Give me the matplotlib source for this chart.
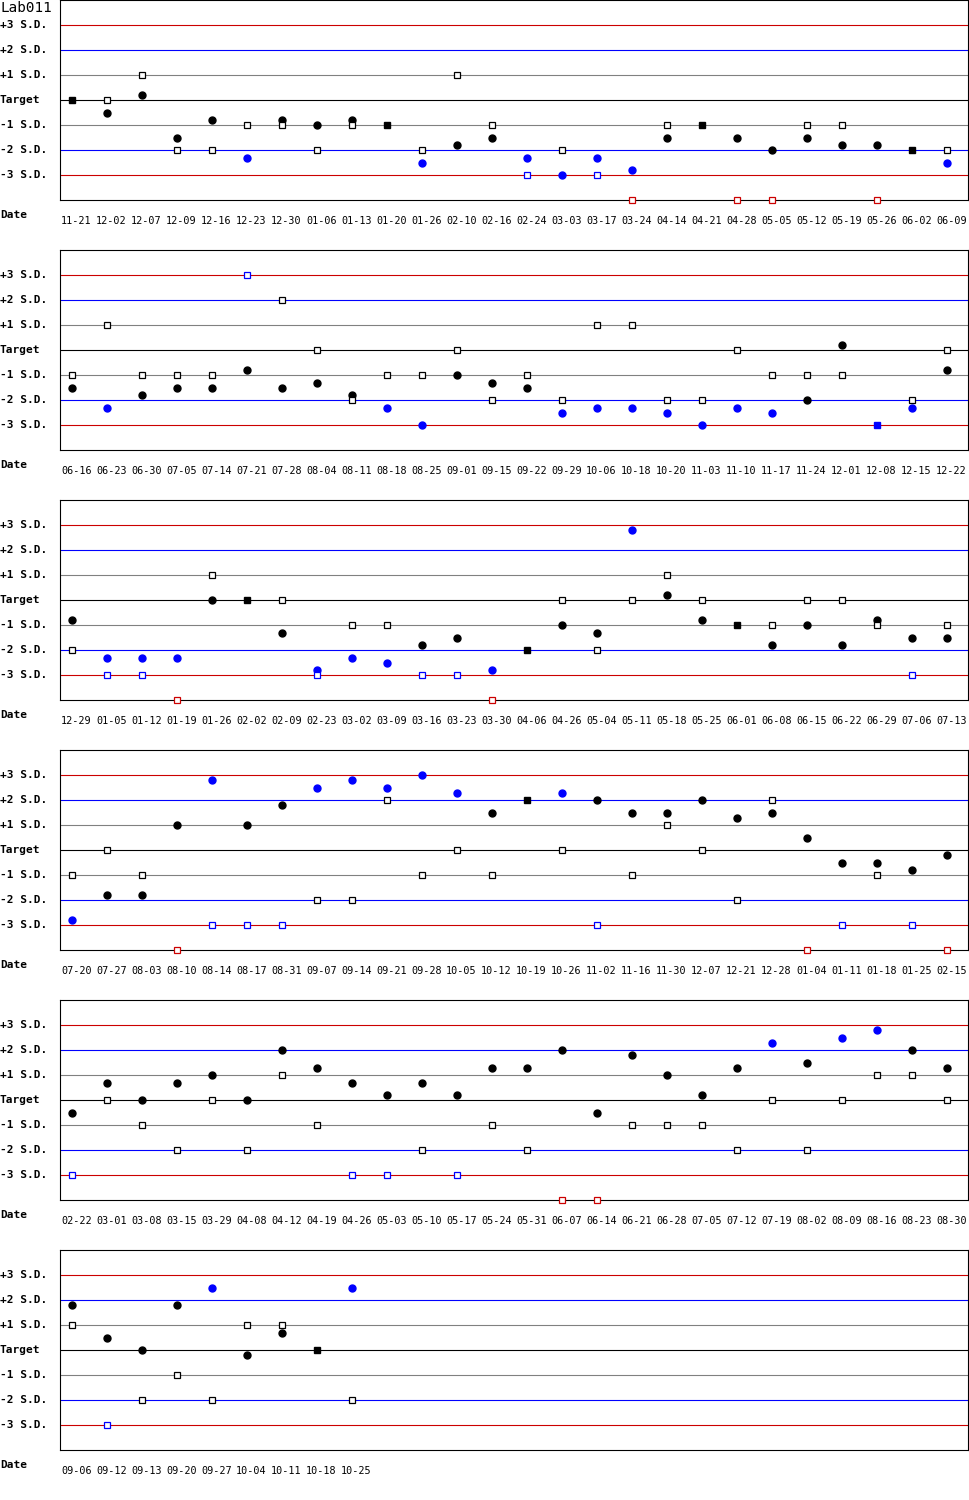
import matplotlib
matplotlib.use("Agg")
import matplotlib.pyplot as plt
import matplotlib.transforms as mtransforms
import numpy as np

# Levey-Jennings style QC chart, values in S.D. units (-4 = off the chart)
dates_1 = ['11-21', '12-02', '12-07', '12-09', '12-16', '12-23', '12-30', '01-06', '01-13',
           '01-20', '01-26', '02-10', '02-16', '02-24', '03-03', '03-17', '03-24', '04-14',
           '04-21', '04-28', '05-05', '05-12', '05-19', '05-26', '06-02', '06-09']
dots_1 = [0, -0.5, 0.2, -1.5, -0.8, -2.3, -0.8, -1, -0.8, -1, -2.5, -1.8, -1.5, -2.3, -3,
          -2.3, -2.8, -1.5, -1, -1.5, -2, -1.5, -1.8, -1.8, -2, -2.5]
boxes_1 = [0, 0, 1, -2, -2, -1, -1, -2, -1, -1, -2, 1, -1, -3, -2, -3, -4, -1, -1, -4, -4,
           -1, -1, -4, -2, -2]

dates_2 = ['06-16', '06-23', '06-30', '07-05', '07-14', '07-21', '07-28', '08-04', '08-11',
           '08-18', '08-25', '09-01', '09-15', '09-22', '09-29', '10-06', '10-18', '10-20',
           '11-03', '11-10', '11-17', '11-24', '12-01', '12-08', '12-15', '12-22']
dots_2 = [-1.5, -2.3, -1.8, -1.5, -1.5, -0.8, -1.5, -1.3, -1.8, -2.3, -3, -1, -1.3, -1.5,
          -2.5, -2.3, -2.3, -2.5, -3, -2.3, -2.5, -2, 0.2, -3, -2.3, -0.8]
boxes_2 = [-1, 1, -1, -1, -1, 3, 2, 0, -2, -1, -1, 0, -2, -1, -2, 1, 1, -2, -2, 0, -1, -1,
           -1, -3, -2, 0]

dates_3 = ['12-29', '01-05', '01-12', '01-19', '01-26', '02-02', '02-09', '02-23', '03-02',
           '03-09', '03-16', '03-23', '03-30', '04-06', '04-26', '05-04', '05-11', '05-18',
           '05-25', '06-01', '06-08', '06-15', '06-22', '06-29', '07-06', '07-13']
dots_3 = [-0.8, -2.3, -2.3, -2.3, 0, 0, -1.3, -2.8, -2.3, -2.5, -1.8, -1.5, -2.8, -2, -1,
          -1.3, 2.8, 0.2, -0.8, -1, -1.8, -1, -1.8, -0.8, -1.5, -1.5]
boxes_3 = [-2, -3, -3, -4, 1, 0, 0, -3, -1, -1, -3, -3, -4, -2, 0, -2, 0, 1, 0, -1, -1, 0,
           0, -1, -3, -1]

dates_4 = ['07-20', '07-27', '08-03', '08-10', '08-14', '08-17', '08-31', '09-07', '09-14',
           '09-21', '09-28', '10-05', '10-12', '10-19', '10-26', '11-02', '11-16', '11-30',
           '12-07', '12-21', '12-28', '01-04', '01-11', '01-18', '01-25', '02-15']
dots_4 = [-2.8, -1.8, -1.8, 1, 2.8, 1, 1.8, 2.5, 2.8, 2.5, 3, 2.3, 1.5, 2, 2.3, 2, 1.5,
          1.5, 2, 1.3, 1.5, 0.5, -0.5, -0.5, -0.8, -0.2]
boxes_4 = [-1, 0, -1, -4, -3, -3, -3, -2, -2, 2, -1, 0, -1, 2, 0, -3, -1, 1, 0, -2, 2, -4,
           -3, -1, -3, -4]

dates_5 = ['02-22', '03-01', '03-08', '03-15', '03-29', '04-08', '04-12', '04-19', '04-26',
           '05-03', '05-10', '05-17', '05-24', '05-31', '06-07', '06-14', '06-21', '06-28',
           '07-05', '07-12', '07-19', '08-02', '08-09', '08-16', '08-23', '08-30']
dots_5 = [-0.5, 0.7, 0, 0.7, 1, 0, 2, 1.3, 0.7, 0.2, 0.7, 0.2, 1.3, 1.3, 2, -0.5, 1.8, 1,
          0.2, 1.3, 2.3, 1.5, 2.5, 2.8, 2, 1.3]
boxes_5 = [-3, 0, -1, -2, 0, -2, 1, -1, -3, -3, -2, -3, -1, -2, -4, -4, -1, -1, -1, -2, 0,
           -2, 0, 1, 1, 0]

dates_6 = ['09-06', '09-12', '09-13', '09-20', '09-27', '10-04', '10-11', '10-18', '10-25']
dots_6 = [1.8, 0.5, 0, 1.8, 2.5, -0.2, 0.7, 0, 2.5]
boxes_6 = [1, -3, -2, -1, -2, 1, 1, 0, -2]

sd_levels = [3, 2, 1, 0, -1, -2, -3]
sd_labels = ['+3 S.D.', '+2 S.D.', '+1 S.D.', 'Target', '-1 S.D.', '-2 S.D.', '-3 S.D.']

RED = '#cc0000'
BLUE = '#0000ff'
line_colors = {3: RED, 2: BLUE, 1: '#808080', 0: 'black'}


def point_color(v):
    if abs(v) > 3:
        return RED
    if abs(v) > 2:
        return BLUE
    return 'black'


panels = [(dates_1, dots_1, boxes_1), (dates_2, dots_2, boxes_2), (dates_3, dots_3, boxes_3),
          (dates_4, dots_4, boxes_4), (dates_5, dots_5, boxes_5), (dates_6, dots_6, boxes_6)]

W, H = 970, 1500
fig = plt.figure(figsize=(W / 100, H / 100), dpi=100)
mono = 'DejaVu Sans Mono'

fig.text(0.0, 1 - 8 / H, 'Lab011', family=mono, fontsize=10.3, ha='left', va='center')

for k, (dates, dots, boxes) in enumerate(panels):
    top = 250 * k
    ax = fig.add_axes([60 / W, 1 - (top + 200) / H, 908 / W, 200 / H])
    ax.set_xlim(-12 / 35, 896 / 35)
    ax.set_ylim(-4, 4)
    for s in ax.spines.values():
        s.set_linewidth(0.8)
        s.set_color('black')

    for lev in sd_levels:
        ax.axhline(lev, color=line_colors[abs(lev)], lw=0.8, zorder=1)

    ylab_tr = mtransforms.blended_transform_factory(fig.transFigure, ax.transData)
    for lev, lab in zip(sd_levels, sd_labels):
        ax.text(0.0, lev, lab, transform=ylab_tr, family=mono, fontweight='bold',
                fontsize=8, ha='left', va='center')
    fig.text(0.0, 1 - (top + 215) / H, 'Date', family=mono, fontweight='bold',
             fontsize=8, ha='left', va='center')

    xs = np.arange(len(dates))
    d = np.array(dots, dtype=float)
    b = np.array(boxes, dtype=float)
    same = np.isclose(d, b)

    for x, v, s in zip(xs, d, same):
        if not s:
            ax.plot(x, v, 'o', ms=5, color=point_color(v), mec=point_color(v),
                    zorder=3, clip_on=False)
    for x, v, s in zip(xs, b, same):
        c = point_color(v)
        if s:
            ax.plot(x, v, 's', ms=5, color=c, mec=c, zorder=4, clip_on=False)
        else:
            ax.plot(x, v, 's', ms=4.3, mfc='white', mec=c, mew=0.9, zorder=4,
                    clip_on=False)

    ax.set_yticks([])
    ax.set_xticks(xs)
    ax.set_xticklabels(dates, family=mono, fontsize=7.3)
    ax.tick_params(axis='x', length=0, pad=11.5)
    shift = mtransforms.ScaledTranslation(4.5 / 100, 0, fig.dpi_scale_trans)
    for lab in ax.get_xticklabels():
        lab.set_transform(lab.get_transform() + shift)

fig.savefig('out.png', dpi=100)
